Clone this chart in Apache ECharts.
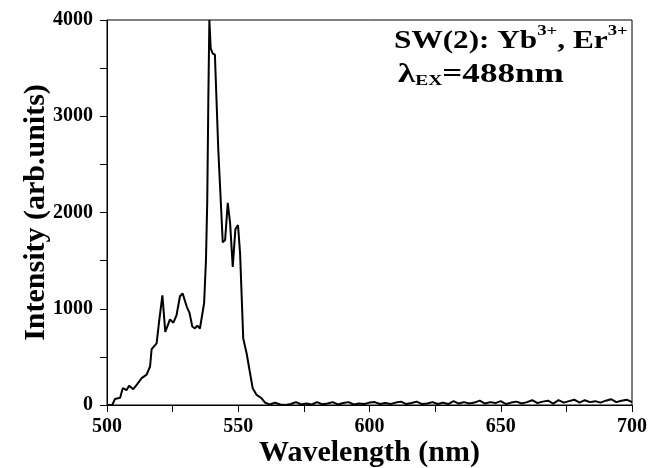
<!DOCTYPE html>
<html>
<head>
<meta charset="utf-8">
<script src="https://cdn.jsdelivr.net/npm/echarts@6/dist/echarts.min.js"></script>
<style>html,body{margin:0;padding:0;background:#fff}#c{width:648px;height:468px}</style>
</head>
<body>
<div id="c"></div>
<script>
var wavelength = [500,502,503,505,506,507.5,508.4,510,511.3,513.2,515.1,516.4,517,518.9,519.9,521.1,522.2,524,525.3,526.5,527.8,528.8,530.4,531.4,532.5,533.5,534.4,535.4,537,537.7,538.2,538.6,539,539.5,540.3,541.1,542.4,544.1,545,546,546.9,547.9,548.9,549.9,550.7,551.9,553.2,554.5,555.5,557,558.9,560.2,
  562,564,566,568,570,572,574,576,578,580,582,584,586,588,590,592,594,596,598,600,602,604,606,608,610,612,614,616,618,620,622,624,626,628,630,632,634,636,638,640,642,644,646,648,650,652,654,656,658,660,662,664,666,668,670,672,674,676,678,680,682,684,686,688,690,692,694,696,698,700];
var intensity = [0,0,62,75,175,155,200,165,210,280,315,400,580,640,880,1140,760,890,855,935,1130,1160,1020,960,815,795,825,795,1060,1505,2130,3170,4000,3705,3650,3640,2650,1690,1715,2100,1890,1435,1825,1870,1575,690,535,330,175,105,70,25,
  5,25,5,0,10,30,5,15,5,30,8,15,30,5,20,30,5,15,10,25,30,10,20,10,25,35,10,20,35,10,15,30,10,25,10,40,15,30,15,25,45,15,30,20,40,10,25,35,15,30,50,20,35,45,15,50,25,40,55,25,50,30,40,25,45,60,30,45,55,30];
var xTicks = [500,550,600,650,700];
var yTicks = [0,1000,2000,3000,4000];

var font = '"Liberation Serif","Times New Roman",serif';
var points = wavelength.map(function(w,i){return [w,intensity[i]];});
var chart = echarts.init(document.getElementById('c'));
chart.setOption({
  animation:false,
  backgroundColor:'#fff',
  grid:{left:107,right:16,top:20,bottom:63,outerBoundsMode:'none',containLabel:false,show:true,borderColor:'#000',borderWidth:1,backgroundColor:'transparent'},
  xAxis:{type:'value',min:500,max:700,interval:25,
    name:'Wavelength (nm)',nameLocation:'middle',nameGap:33,nameMoveOverlap:false,
    nameTextStyle:{fontFamily:font,fontWeight:'bold',fontSize:30,color:'#000'},
    axisLine:{lineStyle:{color:'#000',width:1}},
    axisTick:{show:true,length:7,lineStyle:{color:'#000',width:1}},
    axisLabel:{fontFamily:font,fontWeight:'bold',fontSize:20,color:'#000',margin:12,
      formatter:function(v){return xTicks.indexOf(v)>=0?String(v):'';}},
    splitLine:{show:false}},
  yAxis:{type:'value',min:0,max:4000,interval:500,
    name:'Intensity (arb.units)',nameLocation:'middle',nameGap:56,nameMoveOverlap:false,
    nameTextStyle:{fontFamily:font,fontWeight:'bold',fontSize:30,color:'#000'},
    axisLine:{show:true,lineStyle:{color:'#000',width:1}},
    axisTick:{show:true,length:7,lineStyle:{color:'#000',width:1}},
    axisLabel:{fontFamily:font,fontWeight:'bold',fontSize:20,color:'#000',margin:14,
      formatter:function(v){return yTicks.indexOf(v)>=0?String(v):'';}},
    splitLine:{show:false}},
  series:[{type:'line',data:points,showSymbol:false,symbol:'none',
    lineStyle:{color:'#000',width:2},z:3}],
  graphic:[
    {type:'text',x:394,y:24,scaleX:1.25,z:10,style:{
      text:'{a|SW(2): Yb}{s|3+}{a|, Er}{s|3+}',
      rich:{a:{fontFamily:font,fontWeight:'bold',fontSize:25,fill:'#000',lineHeight:30,verticalAlign:'bottom'},
            s:{fontFamily:font,fontWeight:'bold',fontSize:15,fill:'#000',lineHeight:30,verticalAlign:'top',padding:[0,0,15,0]}}}},
    {type:'text',x:398,y:59,scaleX:1.3,z:10,style:{
      text:'{a|λ}{b|EX}{a|=488nm}',
      rich:{a:{fontFamily:font,fontWeight:'bold',fontSize:27,fill:'#000',lineHeight:30,verticalAlign:'bottom'},
            b:{fontFamily:font,fontWeight:'bold',fontSize:15,fill:'#000',lineHeight:30,verticalAlign:'bottom',padding:[14,0,0,0]}}}}
  ]
});
</script>
</body>
</html>
